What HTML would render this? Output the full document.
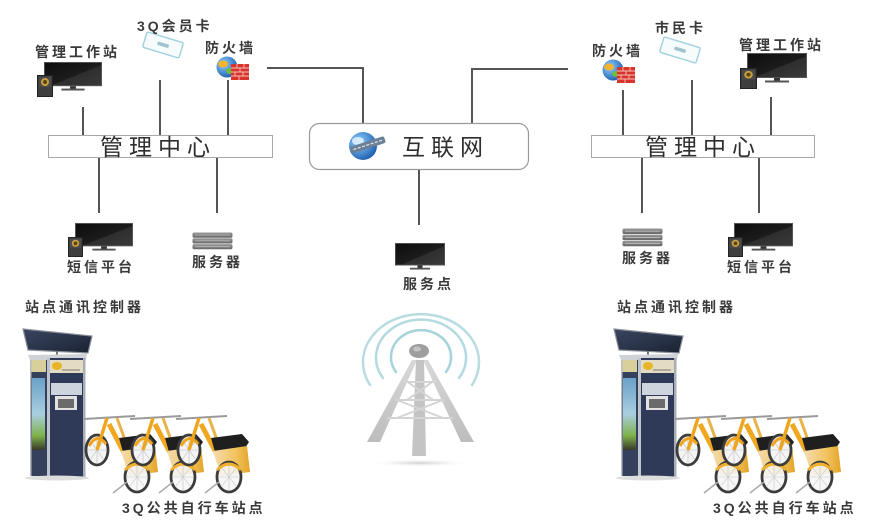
<!DOCTYPE html>
<html>
<head>
<meta charset="utf-8">
<style>
html,body{margin:0;padding:0;background:#fff;}
#wrap{position:relative;width:882px;height:526px;overflow:hidden;background:#fff;}
svg{position:absolute;left:0;top:0;}
.t{position:absolute;font-family:"Liberation Sans","Noto Sans CJK SC",sans-serif;font-weight:bold;font-size:14px;line-height:14px;letter-spacing:3px;color:#3a3a3a;white-space:nowrap;}
.b{position:absolute;font-family:"Liberation Sans","Noto Sans CJK SC",sans-serif;font-weight:normal;font-size:23px;line-height:24px;letter-spacing:6px;color:#2e2e2e;white-space:nowrap;}
</style>
</head>
<body>
<div id="wrap">
<svg width="882" height="526" viewBox="0 0 882 526" xmlns="http://www.w3.org/2000/svg">
<defs>
  <linearGradient id="scr" x1="0" y1="0" x2="1" y2="1">
    <stop offset="0" stop-color="#0c0c0c"/>
    <stop offset="0.55" stop-color="#1c1c1c"/>
    <stop offset="0.56" stop-color="#2e2e2e"/>
    <stop offset="1" stop-color="#3a3a3a"/>
  </linearGradient>
  <symbol id="mon" viewBox="0 0 60 30" preserveAspectRatio="none">
    <rect x="0.5" y="0.5" width="59" height="24" fill="url(#scr)" stroke="#555" stroke-width="1"/>
    <rect x="27" y="25" width="6" height="3" fill="#333"/>
    <rect x="18" y="27.5" width="24" height="2" fill="#555"/>
  </symbol>
  <symbol id="pc" viewBox="0 0 16 22" preserveAspectRatio="none">
    <rect x="0.5" y="0.5" width="15" height="21" fill="#3e3e3e" stroke="#222"/>
    <rect x="2" y="2" width="12" height="10" fill="#4a4a4a"/>
    <circle cx="8" cy="7" r="4" fill="#c9a040"/>
    <circle cx="8" cy="7" r="2" fill="#5a4410"/>
  </symbol>
  <linearGradient id="srvg" x1="0" y1="0" x2="0" y2="1">
    <stop offset="0" stop-color="#9a9a9a"/>
    <stop offset="1" stop-color="#666"/>
  </linearGradient>
  <symbol id="srv" viewBox="0 0 40 18" preserveAspectRatio="none">
    <rect x="0.5" y="0.5" width="39" height="5.2" rx="1.5" fill="url(#srvg)"/>
    <rect x="0.5" y="6.3" width="39" height="5.2" rx="1.5" fill="url(#srvg)"/>
    <rect x="0.5" y="12.1" width="39" height="5.2" rx="1.5" fill="url(#srvg)"/>
    <g stroke="#bdbdbd" stroke-width="0.8">
      <line x1="3" y1="3" x2="37" y2="3"/>
      <line x1="3" y1="8.9" x2="37" y2="8.9"/>
      <line x1="3" y1="14.7" x2="37" y2="14.7"/>
    </g>
  </symbol>
  <symbol id="card" viewBox="-22 -10 44 20" overflow="visible">
    <g transform="rotate(17)">
      <rect x="-19" y="-8" width="38" height="16" rx="1.5" fill="#f6fbfc" stroke="#9fd0dc" stroke-width="1.4"/>
      <rect x="-6" y="-2" width="12" height="3.5" rx="1.5" fill="#9fc3cf"/>
    </g>
  </symbol>
  <radialGradient id="glb" cx="0.35" cy="0.35" r="0.7">
    <stop offset="0" stop-color="#8fd0ff"/>
    <stop offset="1" stop-color="#1e5fb0"/>
  </radialGradient>
  <symbol id="fw" viewBox="0 0 36 24" overflow="visible">
    <circle cx="12" cy="10" r="10.5" fill="url(#glb)"/>
    <ellipse cx="8" cy="7" rx="5" ry="3.5" fill="#f2b431"/>
    <ellipse cx="15" cy="14" rx="4" ry="3" fill="#6bbf3a"/>
    <rect x="16" y="7" width="18" height="16" fill="#d9342b"/>
    <g stroke="#f5c2b8" stroke-width="0.9">
      <line x1="16" y1="11" x2="34" y2="11"/>
      <line x1="16" y1="15" x2="34" y2="15"/>
      <line x1="16" y1="19" x2="34" y2="19"/>
      <line x1="22" y1="7" x2="22" y2="11"/>
      <line x1="29" y1="7" x2="29" y2="11"/>
      <line x1="25" y1="11" x2="25" y2="15"/>
      <line x1="20" y1="15" x2="20" y2="19"/>
      <line x1="28" y1="15" x2="28" y2="19"/>
      <line x1="24" y1="19" x2="24" y2="23"/>
    </g>
  </symbol>
  <linearGradient id="pan" x1="0" y1="0" x2="1" y2="1">
    <stop offset="0" stop-color="#3a4660"/>
    <stop offset="1" stop-color="#1b2233"/>
  </linearGradient>
  <linearGradient id="side" x1="0" y1="0" x2="0" y2="1">
    <stop offset="0" stop-color="#6aa0c8"/>
    <stop offset="0.5" stop-color="#a9cfe0"/>
    <stop offset="0.8" stop-color="#7fb24a"/>
    <stop offset="1" stop-color="#3a3a2a"/>
  </linearGradient>
  <linearGradient id="tw" x1="0" y1="0" x2="0" y2="1">
    <stop offset="0" stop-color="#d8d8d8"/>
    <stop offset="1" stop-color="#bdbdbd"/>
  </linearGradient>
  <linearGradient id="box" x1="0" y1="0" x2="1" y2="0">
    <stop offset="0" stop-color="#f3dcae"/>
    <stop offset="0.6" stop-color="#f2c460"/>
    <stop offset="1" stop-color="#e3a52a"/>
  </linearGradient>
  <radialGradient id="shd" cx="0.5" cy="0.5" r="0.5">
    <stop offset="0" stop-color="#cfcfcf"/>
    <stop offset="1" stop-color="#ffffff" stop-opacity="0"/>
  </radialGradient>
  <g id="bike">
    <ellipse cx="10" cy="450" rx="11" ry="15" fill="#f4f4f4" stroke="#3c3c3c" stroke-width="2.8"/>
    <g stroke="#bbb" stroke-width="0.6">
      <line x1="10" y1="436" x2="10" y2="464"/>
      <line x1="0" y1="450" x2="20" y2="450"/>
      <line x1="3" y1="440" x2="17" y2="460"/>
      <line x1="17" y1="440" x2="3" y2="460"/>
    </g>
    <line x1="-3" y1="419" x2="48" y2="416" stroke="#9a9a9a" stroke-width="2"/>
    <path d="M 2 446 Q 10 432 19 444" fill="none" stroke="#efa51e" stroke-width="3"/>
    <line x1="20" y1="418" x2="10" y2="450" stroke="#efa51e" stroke-width="3.5"/>
    <line x1="22" y1="424" x2="44" y2="466" stroke="#f0a820" stroke-width="5"/>
    <line x1="30" y1="418" x2="38" y2="440" stroke="#e9b24a" stroke-width="3"/>
    <polygon points="32,438 63,434 70,442 66,448 36,452" fill="#1f1f1f"/>
    <polygon points="34,451 68,446 71,472 42,476" fill="url(#box)"/>
    <ellipse cx="50" cy="477" rx="12" ry="15" fill="#f6f6f6" fill-opacity="0.85" stroke="#3c3c3c" stroke-width="2.8"/>
    <g stroke="#c4c4c4" stroke-width="0.6">
      <line x1="50" y1="463" x2="50" y2="491"/>
      <line x1="39" y1="477" x2="61" y2="477"/>
      <line x1="42" y1="467" x2="58" y2="487"/>
      <line x1="58" y1="467" x2="42" y2="487"/>
    </g>
    <path d="M 38 470 Q 50 458 62 470" fill="none" stroke="#efb030" stroke-width="3"/>
    <line x1="40" y1="482" x2="26" y2="493" stroke="#aaa" stroke-width="1.5"/>
  </g>
  <g id="station">
    <polygon points="23,329 92,336 88,353 28,350" fill="url(#pan)" stroke="#8a8f99" stroke-width="1.2"/>
    <line x1="57" y1="351" x2="57" y2="356" stroke="#777" stroke-width="2"/>
    <polygon points="28,355 87,354 86,360 30,360" fill="#cfd3d8"/>
    <rect x="30" y="360" width="17" height="116" fill="#34405c"/>
    <rect x="31" y="360" width="15" height="12" fill="#d9cf9a"/>
    <rect x="32" y="378" width="13" height="72" fill="url(#side)"/>
    <rect x="30" y="360" width="1.5" height="116" fill="#b8bcc4"/>
    <rect x="47" y="358" width="38" height="119" fill="#2f3a58"/>
    <rect x="47" y="358" width="3" height="119" fill="#bfc4cc"/>
    <rect x="83" y="358" width="2.5" height="119" fill="#a9aeb6"/>
    <rect x="50" y="360" width="33" height="13" fill="#e3dcc2"/>
    <ellipse cx="57" cy="366" rx="5" ry="4" fill="#e8b528"/>
    <line x1="62" y1="370" x2="80" y2="370" stroke="#777" stroke-width="1"/>
    <rect x="51" y="383" width="31" height="12" fill="#cdd4de"/>
    <rect x="55" y="396" width="22" height="14" fill="#e2e2e2"/>
    <rect x="58" y="399" width="16" height="9" fill="#6b6b6b"/>
    <ellipse cx="57" cy="478" rx="32" ry="2.5" fill="#ddd"/>
    <use href="#bike" x="87"/>
    <use href="#bike" x="133"/>
    <use href="#bike" x="179"/>
  </g>
</defs>

<g stroke="#555" stroke-width="2" fill="none">
  <line x1="83" y1="107" x2="83" y2="135"/>
  <line x1="160" y1="80" x2="160" y2="135"/>
  <line x1="228" y1="80" x2="228" y2="135"/>
  <line x1="99" y1="158" x2="99" y2="213"/>
  <line x1="217" y1="158" x2="217" y2="213"/>
  <polyline points="267,68 363,68 363,123"/>
  <line x1="623" y1="90" x2="623" y2="135"/>
  <line x1="692" y1="80" x2="692" y2="135"/>
  <line x1="771" y1="97" x2="771" y2="135"/>
  <line x1="642" y1="158" x2="642" y2="213"/>
  <line x1="759" y1="158" x2="759" y2="213"/>
  <polyline points="568,69 472,69 472,123"/>
  <line x1="419" y1="170" x2="419" y2="225"/>
</g>

<rect x="48.5" y="135.5" width="224" height="22" fill="#fff" stroke="#a8a8a8" stroke-width="1"/>
<rect x="591.5" y="135.5" width="223" height="22" fill="#fff" stroke="#a8a8a8" stroke-width="1"/>
<rect x="309.5" y="123.5" width="219" height="46" rx="10" fill="#fff" stroke="#9a9a9a" stroke-width="1.2"/>

<circle cx="363" cy="146" r="14" fill="url(#glb)"/>
<ellipse cx="358" cy="141" rx="6" ry="4" fill="#e8f4ff" opacity="0.8"/>
<g transform="rotate(-18 366 146)">
  <rect x="350" y="142" width="36" height="7" rx="2" fill="#6d7f95"/>
  <line x1="353" y1="145.5" x2="383" y2="145.5" stroke="#dfe8f2" stroke-width="1.2" stroke-dasharray="3 1.5"/>
</g>

<use href="#mon" x="44" y="62" width="58" height="29"/>
<use href="#pc" x="37" y="75" width="16" height="22"/>
<use href="#mon" x="75" y="223" width="58" height="28"/>
<use href="#pc" x="68" y="237" width="15" height="20"/>
<use href="#mon" x="747" y="53" width="60" height="30"/>
<use href="#pc" x="740" y="68" width="17" height="21"/>
<use href="#mon" x="734" y="223" width="59" height="28"/>
<use href="#pc" x="728" y="237" width="15" height="20"/>
<use href="#mon" x="395" y="243" width="50" height="27"/>

<use href="#srv" x="192" y="232" width="41" height="18"/>
<use href="#srv" x="622" y="228" width="41" height="19"/>

<use href="#card" x="141" y="35" width="44" height="20"/>
<use href="#card" x="658" y="40" width="44" height="20"/>

<use href="#fw" x="215" y="57" width="36" height="24"/>
<use href="#fw" x="601" y="60" width="36" height="24"/>

<g fill="none" stroke="#a6d3da" stroke-width="2.5" stroke-linecap="round">
  <path d="M 370 385 A 58 48 0 1 1 472 385" opacity="0.8"/>
  <path d="M 383 378 A 45 38 0 1 1 459 378" opacity="0.85"/>
  <path d="M 396 372 A 30 27 0 1 1 446 372"/>
</g>
<ellipse cx="420" cy="463" rx="52" ry="4" fill="url(#shd)"/>
<polygon points="412,360 417,360 380,442 367,442" fill="url(#tw)"/>
<polygon points="423,360 428,360 474,442 461,442" fill="url(#tw)"/>
<polygon points="416,360 424,360 426,456 412,456" fill="#c4c4c4"/>
<g stroke="#d4d4d4" stroke-width="2">
  <line x1="403" y1="382" x2="437" y2="382"/>
  <line x1="395" y1="400" x2="445" y2="400"/>
  <line x1="387" y1="418" x2="453" y2="418"/>
  <line x1="405" y1="380" x2="433" y2="400"/>
  <line x1="435" y1="380" x2="407" y2="400"/>
  <line x1="397" y1="400" x2="443" y2="418"/>
  <line x1="443" y1="400" x2="397" y2="418"/>
</g>
<ellipse cx="419" cy="351" rx="10" ry="7" fill="#9e9e9e"/>
<ellipse cx="417" cy="349" rx="4" ry="2.5" fill="#c4c4c4"/>

<use href="#station"/>
<use href="#station" x="591"/>
</svg>

<div class="t" style="left:137px;top:19px;">3Q会员卡</div>
<div class="t" style="left:35px;top:45px;">管理工作站</div>
<div class="t" style="left:205px;top:41px;">防火墙</div>
<div class="b" style="left:100px;top:135px;">管理中心</div>
<div class="t" style="left:67px;top:260px;">短信平台</div>
<div class="t" style="left:192px;top:255px;">服务器</div>

<div class="b" style="left:402px;top:135px;">互联网</div>
<div class="t" style="left:403px;top:277px;">服务点</div>

<div class="t" style="left:655px;top:21px;">市民卡</div>
<div class="t" style="left:592px;top:44px;">防火墙</div>
<div class="t" style="left:739px;top:38px;">管理工作站</div>
<div class="b" style="left:645px;top:135px;">管理中心</div>
<div class="t" style="left:622px;top:251px;">服务器</div>
<div class="t" style="left:727px;top:260px;">短信平台</div>

<div class="t" style="left:25px;top:300px;">站点通讯控制器</div>
<div class="t" style="left:617px;top:300px;">站点通讯控制器</div>
<div class="t" style="left:122px;top:501px;">3Q公共自行车站点</div>
<div class="t" style="left:713px;top:501px;">3Q公共自行车站点</div>
</div>
</body>
</html>
